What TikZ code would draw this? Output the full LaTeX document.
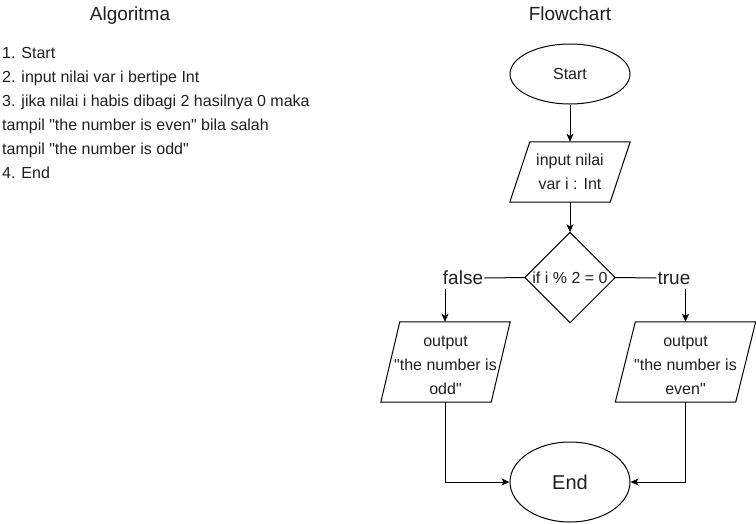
\documentclass[tikz,border=0pt]{standalone}
\usepackage{fontspec}
\setmainfont{Liberation Sans}[Ligatures=TeXOff]
\usetikzlibrary{shapes.geometric,arrows.meta,calc}
\newcommand{\sq}{\symbol{34}}
\begin{document}
\begin{tikzpicture}[x=1pt,y=-1pt,
  every node/.style={font=\fontsize{16}{24}\selectfont, text=black!88},
  flowline/.style={draw=black, line width=1pt},
  arr/.style={flowline, -{Stealth[length=8pt,width=7pt,inset=2pt]}},
  term/.style={ellipse, draw=black, line width=1pt, inner sep=0pt},
  box/.style={inner sep=0pt, align=center},
  listline/.style={anchor=base west, inner sep=0pt},
  title/.style={anchor=base, inner sep=0pt, font=\fontsize{19}{23}\selectfont},
  lbl/.style={inner sep=1pt, font=\fontsize{19}{23}\selectfont}
]
\useasboundingbox (0,0) rectangle (756,523);

% left column
\node[title] (t1) at (130,20) {Algoritma};
\node[listline] (l1) at (2,58) {1. Start};
\node[listline] (l2) at (2,82) {2. input nilai var i bertipe Int};
\node[listline] (l3) at (2,106) {3. jika nilai i habis dibagi 2 hasilnya 0 maka};
\node[listline] (l4) at (2,130) {tampil \sq the number is even\sq{} bila salah};
\node[listline] (l5) at (2,154) {tampil \sq the number is odd\sq};
\node[listline] (l6) at (2,178) {4. End};

% flowchart
\node[title] (t2) at (570,20) {Flowchart};
\node[term, minimum width=120pt, minimum height=60pt] (start) at (570,74) {Start};

\node[box, minimum width=120pt, minimum height=60pt] (in) at (570,172) {input nilai\\var i : Int};
\draw[flowline] ($(in.north west)+(20,0)$) -- (in.north east) -- ($(in.south east)-(20,0)$) -- (in.south west) -- cycle;

\node[box, minimum width=90pt, minimum height=90pt] (dec) at (570,277.5) {if i \% 2 = 0};
\draw[flowline] (dec.north) -- (dec.east) -- (dec.south) -- (dec.west) -- cycle;

\node[lbl] (f) at (463,278) {false};
\node[lbl] (t) at (674,278) {true};
\coordinate (fa) at (445,289);
\coordinate (ta) at (685.5,289);

\node[box, minimum width=129pt, minimum height=80pt] (outL) at (445.5,362) {};
\node[box] (outLt) at (445.5,365) {output\\\sq the number is\\odd\sq};
\draw[flowline] ($(outL.north west)+(19,0)$) -- (outL.north east) -- ($(outL.south east)-(19,0)$) -- (outL.south west) -- cycle;

\node[box, minimum width=140pt, minimum height=80pt] (outR) at (685.5,362) {};
\node[box] (outRt) at (685.5,365) {output\\\sq the number is\\even\sq};
\draw[flowline] ($(outR.north west)+(20,0)$) -- (outR.north east) -- ($(outR.south east)-(20,0)$) -- (outR.south west) -- cycle;

\node[term, minimum width=120pt, minimum height=80pt, font=\fontsize{20}{24}\selectfont] (end) at (570,482) {End};

% connectors
\draw[arr] (start.south) -- (in.north);
\draw[arr] (in.south) -- (dec.north);
\draw[flowline] (dec.west) -- (f.east);
\draw[flowline] (dec.east) -- (t.west);
\draw[arr] (fa) -- (fa |- outL.north);
\draw[arr] (ta) -- (ta |- outR.north);
\draw[arr] (outL.south) |- (end.west);
\draw[arr] (outR.south) |- (end.east);
\end{tikzpicture}
\end{document}
